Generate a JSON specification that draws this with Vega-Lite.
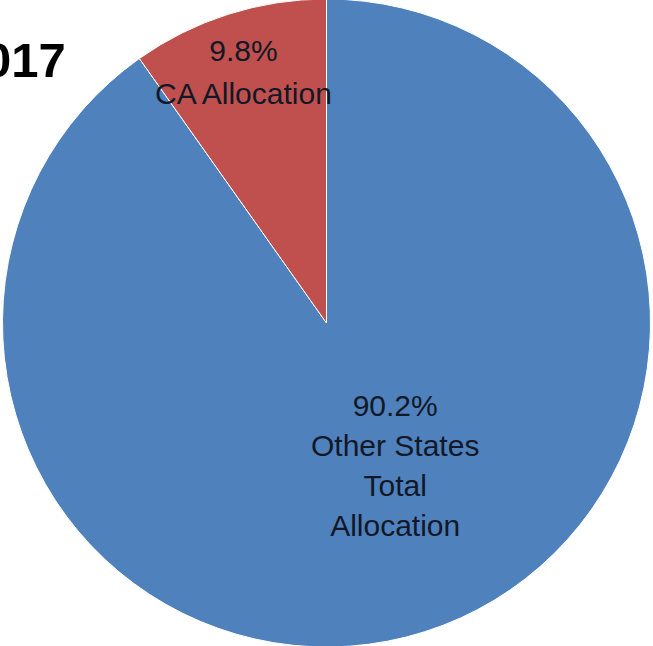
{
  "$schema": "https://vega.github.io/schema/vega-lite/v6.json",
  "width": 653,
  "height": 646,
  "autosize": {"type": "none"},
  "padding": 0,
  "background": "white",
  "title": {
    "text": "017",
    "anchor": "start",
    "frame": "group",
    "orient": "top",
    "offset": -90,
    "dx": -16,
    "font": "Liberation Sans",
    "fontSize": 49,
    "fontWeight": "bold",
    "color": "#000000"
  },
  "data": {
    "values": [
      {"idx": 1, "category": "Other States Total Allocation", "value": 90.2, "label": ["90.2%", "Other States", "Total", "Allocation"]},
      {"idx": 2, "category": "CA Allocation", "value": 9.8, "label": ["9.8%", "CA Allocation"]}
    ]
  },
  "encoding": {
    "theta": {"field": "value", "type": "quantitative", "stack": true},
    "order": {"field": "idx", "type": "quantitative"}
  },
  "layer": [
    {
      "mark": {"type": "arc", "outerRadius": 324, "stroke": "#ffffff", "strokeWidth": 1},
      "encoding": {
        "color": {
          "field": "category",
          "type": "nominal",
          "scale": {"domain": ["Other States Total Allocation", "CA Allocation"], "range": ["#4F81BD", "#C0504D"]},
          "legend": null
        }
      }
    },
    {
      "mark": {"type": "text", "radius": 284, "dx": 3, "font": "Liberation Sans", "fontSize": 30, "lineHeight": 43, "color": "#111827", "align": "center", "baseline": "middle"},
      "encoding": {
        "text": {"condition": {"test": "datum.idx === 2", "field": "label"}, "value": ""}
      }
    },
    {
      "mark": {"type": "text", "radius": 88, "dx": 42, "font": "Liberation Sans", "fontSize": 30, "lineHeight": 40, "color": "#111827", "align": "center", "baseline": "middle"},
      "encoding": {
        "text": {"condition": {"test": "datum.idx === 1", "field": "label"}, "value": ""}
      }
    }
  ]
}
